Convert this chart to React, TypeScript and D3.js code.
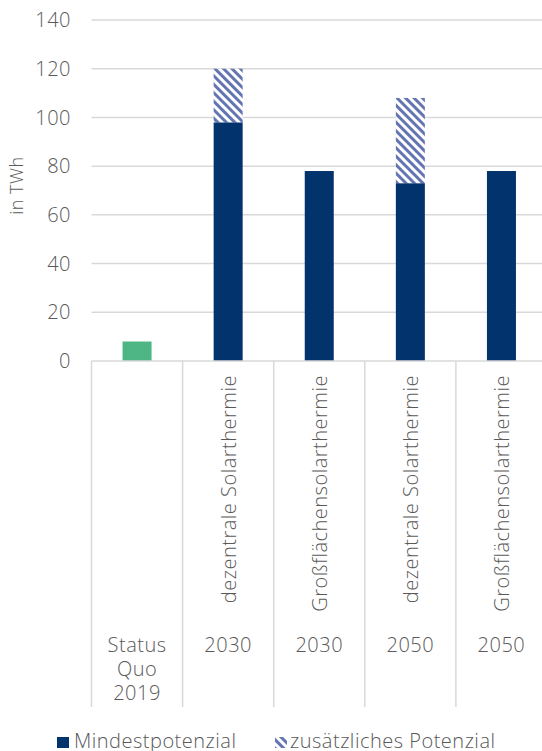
import React from "react";
import * as d3 from "d3";

// Category groups along the x axis
const scenarioLabels = [
  "",
  "dezentrale Solarthermie",
  "Großflächensolarthermie",
  "dezentrale Solarthermie",
  "Großflächensolarthermie",
];
const yearLabels = [["Status", "Quo", "2019"], ["2030"], ["2030"], ["2050"], ["2050"]];

// Values in TWh
const statusQuo = [8, 0, 0, 0, 0];
const mindestpotenzial = [0, 98, 78, 73, 78];
const zusaetzlich = [0, 22, 0, 35, 0];

const yTicks = [0, 20, 40, 60, 80, 100, 120, 140];

const W = 542;
const H = 751;
const FONT = "'Open Sans', sans-serif";
const FS = 20;
const LS = 0.5;
const TEXT = "#595959";
const GRID = "#d9d9d9";
const NAVY = "#03336c";
const GREEN = "#4eb584";
const HATCH = "#6475b3";

export default function App() {
  const left = 91.5;
  const y = d3.scaleLinear().domain([0, 140]).range([361, 20]);
  const idx = d3.range(scenarioLabels.length).map(String);
  const x = d3.scaleBand().domain(idx).range([left, left + 91.1 * 5]).padding(0);
  const barW = 29;
  const catBottom = 707;

  return (
    <svg
      width={W}
      height={H}
      style={{ position: "absolute", left: 0, top: 0 }}
      fontFamily={FONT}
      fontWeight={300}
      letterSpacing={LS}
    >
      <defs>
        <pattern
          id="hatch"
          patternUnits="userSpaceOnUse"
          width={6}
          height={6}
          patternTransform="rotate(-45)"
        >
          <rect width={6} height={6} fill="#fff" />
          <rect x={0} y={0} width={3} height={6} fill={HATCH} />
        </pattern>
      </defs>

      {/* gridlines */}
      {yTicks.filter((t) => t > 0).map((t) => (
        <line key={t} x1={left} x2={W} y1={y(t)} y2={y(t)} stroke={GRID} strokeWidth={1.5} />
      ))}

      {/* y tick labels */}
      {yTicks.map((t) => (
        <text
          key={t}
          x={71}
          y={y(t)}
          dy="0.36em"
          textAnchor="end"
          fontSize={FS}
          fill={TEXT}
        >
          {t}
        </text>
      ))}

      {/* y axis title */}
      <text
        transform={`translate(23,${(y(0) + y(140)) / 2 - 5}) rotate(-90)`}
        textAnchor="middle"
        fontSize={18}
        fill={TEXT}
      >
        in TWh
      </text>

      {/* bars */}
      {idx.map((k, i) => {
        const cx = x(k)! + x.bandwidth() / 2;
        const bx = cx - barW / 2;
        return (
          <g key={k}>
            {statusQuo[i] > 0 && (
              <rect x={bx} y={y(statusQuo[i])} width={barW} height={y(0) - y(statusQuo[i])} fill={GREEN} />
            )}
            {mindestpotenzial[i] > 0 && (
              <rect
                x={bx}
                y={y(mindestpotenzial[i])}
                width={barW}
                height={y(0) - y(mindestpotenzial[i])}
                fill={NAVY}
              />
            )}
            {zusaetzlich[i] > 0 && (
              <rect
                x={bx}
                y={y(mindestpotenzial[i] + zusaetzlich[i])}
                width={barW}
                height={y(mindestpotenzial[i]) - y(mindestpotenzial[i] + zusaetzlich[i])}
                fill="url(#hatch)"
              />
            )}
          </g>
        );
      })}

      {/* category axis */}
      <line x1={left} x2={W} y1={y(0)} y2={y(0)} stroke={GRID} strokeWidth={1.5} />
      {idx.map((k) => (
        <line
          key={k}
          x1={x(k)!}
          x2={x(k)!}
          y1={y(0)}
          y2={catBottom}
          stroke={GRID}
          strokeWidth={1.5}
        />
      ))}

      {/* category labels */}
      {idx.map((k, i) => {
        const cx = x(k)! + x.bandwidth() / 2;
        return (
          <g key={k} fill={TEXT} fontSize={FS}>
            {scenarioLabels[i] && (
              <text transform={`translate(${cx + 8},375) rotate(-90)`} textAnchor="end">
                {scenarioLabels[i]}
              </text>
            )}
            {yearLabels[i].map((line, j) => (
              <text key={j} x={cx} y={652 + j * 24} textAnchor="middle">
                {line}
              </text>
            ))}
          </g>
        );
      })}

      {/* legend */}
      <g fontSize={FS} fill={TEXT}>
        <rect x={57} y={737} width={12} height={11} fill={NAVY} />
        <text x={74} y={748}>Mindestpotenzial</text>
        <rect x={275} y={737} width={12} height={11} fill="url(#hatch)" />
        <text x={290} y={748}>zusätzliches Potenzial</text>
      </g>
    </svg>
  );
}
